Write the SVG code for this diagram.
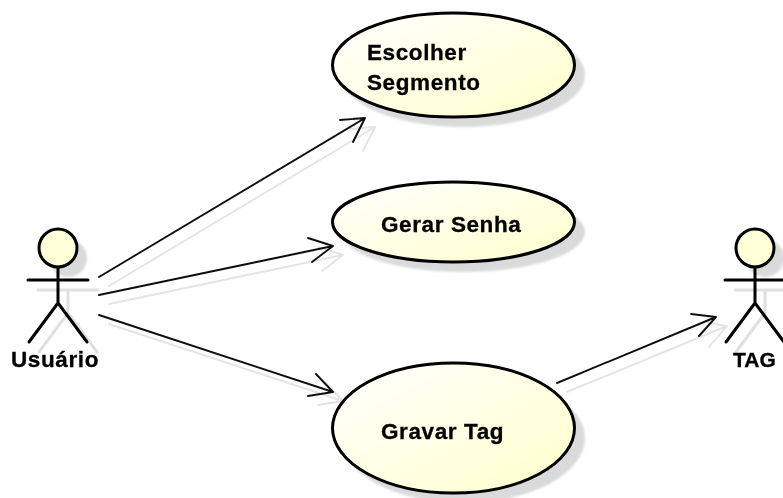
<svg xmlns="http://www.w3.org/2000/svg" width="783" height="498" viewBox="0 0 783 498">
<defs>
<linearGradient id="g" x1="0" y1="0" x2="1" y2="1"><stop offset="0" stop-color="#ffffff"/><stop offset="0.55" stop-color="#ffffe2"/><stop offset="1" stop-color="#ffffcc"/></linearGradient>
<filter id="b" x="-20%" y="-20%" width="140%" height="140%"><feGaussianBlur stdDeviation="1"/></filter>
<filter id="s" x="0" y="0" width="783" height="498" filterUnits="userSpaceOnUse"><feGaussianBlur stdDeviation="0.7"/></filter>
</defs>
<style>
rect.bg{fill:#fff}
.sh{fill:#dadada;stroke:none;filter:url(#b)}
.e{fill:url(#g);stroke:#000;stroke-width:3}
.h{fill:#ffffd8;stroke:#000;stroke-width:3}
.l{fill:none;stroke:#000;stroke-width:3;stroke-linecap:round;stroke-linejoin:round}
.ls{fill:none;stroke:#e0e0e0;stroke-width:3;stroke-linecap:round;stroke-linejoin:round}
.c{fill:none;stroke:#111;stroke-width:1.9;stroke-linecap:round;stroke-linejoin:round}
.cs{fill:none;stroke:#e4e4e4;stroke-width:1.9;stroke-linecap:round;stroke-linejoin:round}
text{font-family:"Liberation Sans",Arial,sans-serif;font-weight:700;font-size:22.500px;letter-spacing:.6px;fill:#000;stroke:#000;stroke-width:.3}
</style>
<rect class="bg" width="783" height="498"/>
<g filter="url(#s)">
<g id="connectors">
<path class="cs" d="M109 286L375 127M350 129L375 127L363 151"/>
<path class="cs" d="M109 304L343 255M318 247L343 255L322 271"/>
<path class="cs" d="M109 324L343 401M326 383L343 401L318 405"/>
<path class="cs" d="M567 392L727 326M708 323L727 326L709 347"/>
<path class="c" d="M99 277L365 118M340 120L365 118L353 142"/>
<path class="c" d="M99 295L333 246M308 238L333 246L312 262"/>
<path class="c" d="M99 315L333 392M316 374L333 392L308 396"/>
<path class="c" d="M557 383L716 317M691 314L716 317L699 336"/>
</g>
<g id="uc-escolher">
<ellipse class="sh" cx="463" cy="75" rx="122" ry="52"/>
<ellipse class="e" cx="453.500" cy="65" rx="121" ry="52"/>
<text x="367" y="60">Escolher</text>
<text x="367" y="90">Segmento</text>
</g>
<g id="uc-gerar">
<ellipse class="sh" cx="463" cy="232" rx="122" ry="40"/>
<ellipse class="e" cx="453.500" cy="222" rx="121" ry="40"/>
<text x="381" y="232">Gerar Senha</text>
</g>
<g id="uc-gravar">
<ellipse class="sh" cx="463" cy="438" rx="122" ry="65"/>
<ellipse class="e" cx="453.500" cy="428" rx="121" ry="65"/>
<text x="381" y="439">Gravar Tag</text>
</g>
<g id="actor-usuario">
<circle class="sh" cx="68" cy="258" r="19"/>
<path class="ls" d="M38 290H98M68 290V313M68 313L39 352M68 313L97 352"/>
<circle class="h" cx="58" cy="248" r="19"/>
<path class="l" d="M28 280H88M58 267V303M58 303L29 342M58 303L87 342"/>
<text x="11" y="367">Usuário</text>
</g>
<g id="actor-tag">
<circle class="sh" cx="765" cy="258" r="19"/>
<path class="ls" d="M735 290H795M765 290V313M765 313L736 352"/>
<circle class="h" cx="755" cy="248" r="19"/>
<path class="l" d="M725 280H785M755 267V303M755 303L726 342M755 303L784 342"/>
<text x="733" y="367" style="font-size:21px;letter-spacing:0">TAG</text>
</g>
</g>
</svg>
